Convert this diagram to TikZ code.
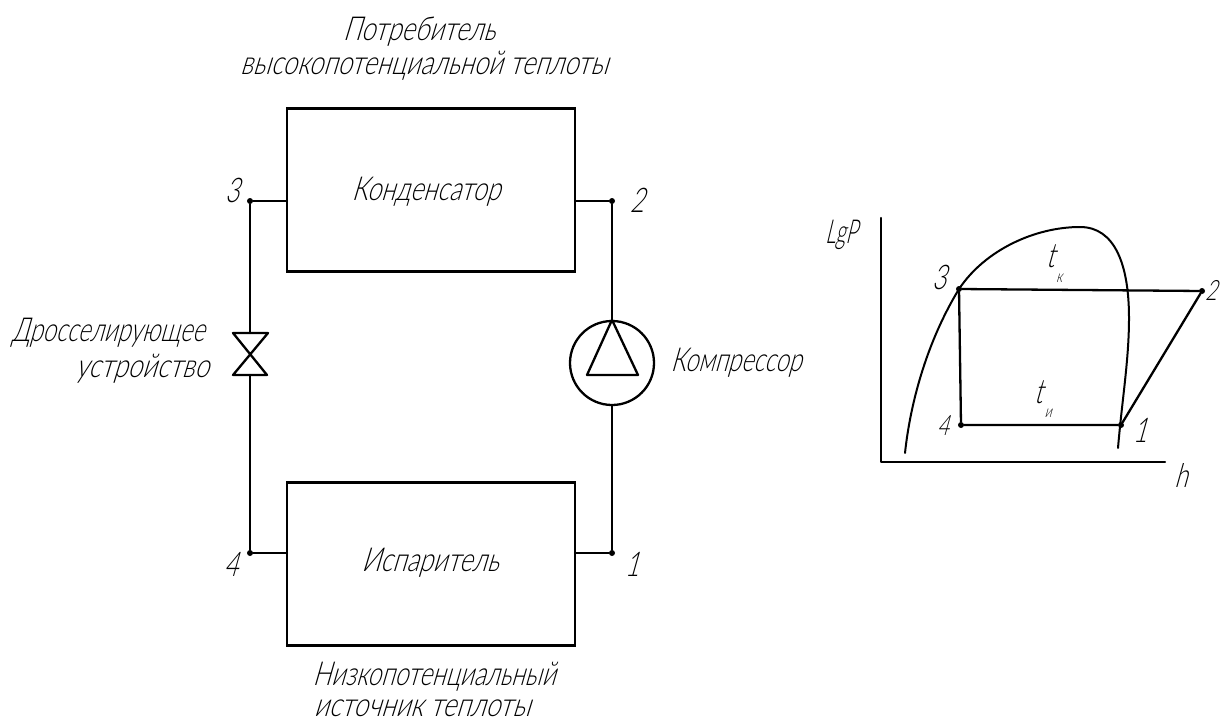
\documentclass[tikz,border=0pt]{standalone}
\usepackage{graphicx}
\usepackage{fontspec}
\setmainfont[FakeSlant=0.28,FakeStretch=0.72,UprightFont={* Light}]{Lato}
\newcommand{\widen}[2]{\scalebox{#1}[1]{#2}}
\begin{document}
\begin{tikzpicture}[x=1pt,y=-1pt,
  line/.style={line width=2.3pt,black,line cap=round,line join=round},
  thinline/.style={line width=2pt,black,line cap=round,line join=round},
  dot/.style={circle,fill=black,inner sep=0pt,minimum size=6pt},
  box/.style={draw,line width=2.3pt,rectangle,minimum width=288pt,minimum height=163pt,inner sep=0pt},
  lab/.style={inner sep=0pt,font=\fontsize{33pt}{35pt}\selectfont,text=black},
  num/.style={inner sep=0pt,font=\fontsize{34pt}{36pt}\selectfont,text=black},
  numsmall/.style={inner sep=0pt,font=\fontsize{28pt}{30pt}\selectfont,text=black},
  sub/.style={inner sep=0pt,font=\fontsize{17pt}{18pt}\selectfont,text=black}]
\useasboundingbox (0,0) rectangle (1220,725);
\node[box] (kond) at (431,190) {};
\node[box] (isp) at (431,564) {};
\node[lab] (tkond) at (426,192) {\widen{1.06}{Конденсатор}};
\node[lab] (tisp) at (430,563) {\widen{1.07}{Испаритель}};
\node[dot] (p3) at (250,201) {};
\node[dot] (p2) at (612,201) {};
\node[dot] (p4) at (250,553) {};
\node[dot] (p1) at (612,553) {};
\draw[line] (p3) -- (287,201);
\draw[line] (575,201) -- (p2);
\draw[line] (p4) -- (287,553);
\draw[line] (575,553) -- (p1);
% valve
\coordinate (vt) at (250,333);
\coordinate (vb) at (250,375);
\draw[line] (p3) -- (vt);
\draw[line] (vb) -- (p4);
\draw[line] (233,333) -- (268,333) -- (233,375) -- (267,375) -- cycle;
% compressor
\node[draw,line width=2.3pt,circle,minimum size=84pt,inner sep=0pt] (comp) at (612,363) {};
\draw[line] (p2) -- (comp.north);
\draw[line] (comp.south) -- (p1);
\draw[line] (comp.north) -- (638,375) -- (587,375) -- cycle;
% labels left scheme
\node[lab] (t1) at (419,32) {\widen{1.07}{Потребитель}};
\node[lab] (t2) at (424,66) {\widen{1.08}{высокопотенциальной теплоты}};
\node[lab] (t3) at (108,333) {Дросселирующее};
\node[lab] (t4) at (142,369) {\widen{1.09}{устройство}};
\node[lab] (t5) at (736,363) {Компрессор};
\node[lab] (t6) at (434,677) {\widen{1.03}{Низкопотенциальный}};
\node[lab] (t7) at (422,708) {\widen{1.1}{источник теплоты}};
\node[num] (n3) at (232,190) {3};
\node[num] (n2) at (637,200) {2};
\node[num] (n4) at (231,564) {4};
\node[num] (n1) at (632,564) {1};
% diagram
\coordinate (o) at (881,462);
\coordinate (ay) at (881,218);
\coordinate (ax) at (1165,462);
\draw[line] (ay) -- (o) -- (ax);
\draw[thinline] (905,453) .. controls (909,415) and (922,350) .. (959,289)
  .. controls (985,250) and (1035,227) .. (1080,227)
  .. controls (1115,227) and (1129,265) .. (1129,318)
  .. controls (1129,360) and (1122,400) .. (1118,448);
\node[dot] (d3) at (959,289) {};
\node[dot] (d2) at (1202,291) {};
\node[dot] (d4) at (961,425) {};
\node[dot] (d1) at (1121,425) {};
\draw[line] (d3) -- (d2) -- (d1) -- (d4) -- (d3);
\node[lab] (lgp) at (841,235) {\widen{0.85}{LgP}};
\node[lab] (lh) at (1181,475) {h};
\node[num] (m3) at (939,277) {3};
\node[numsmall,anchor=east] (m2) at (1217,290) {2};
\node[numsmall] (m4) at (943,426) {4};
\node[num] (m1) at (1140,430) {1};
\node[num] (tk) at (1050,256) {t};
\node[sub] (tkk) at (1059,278) {к};
\node[num] (tu) at (1038,392) {t};
\node[sub] (tuu) at (1048,413) {и};
\end{tikzpicture}
\end{document}
